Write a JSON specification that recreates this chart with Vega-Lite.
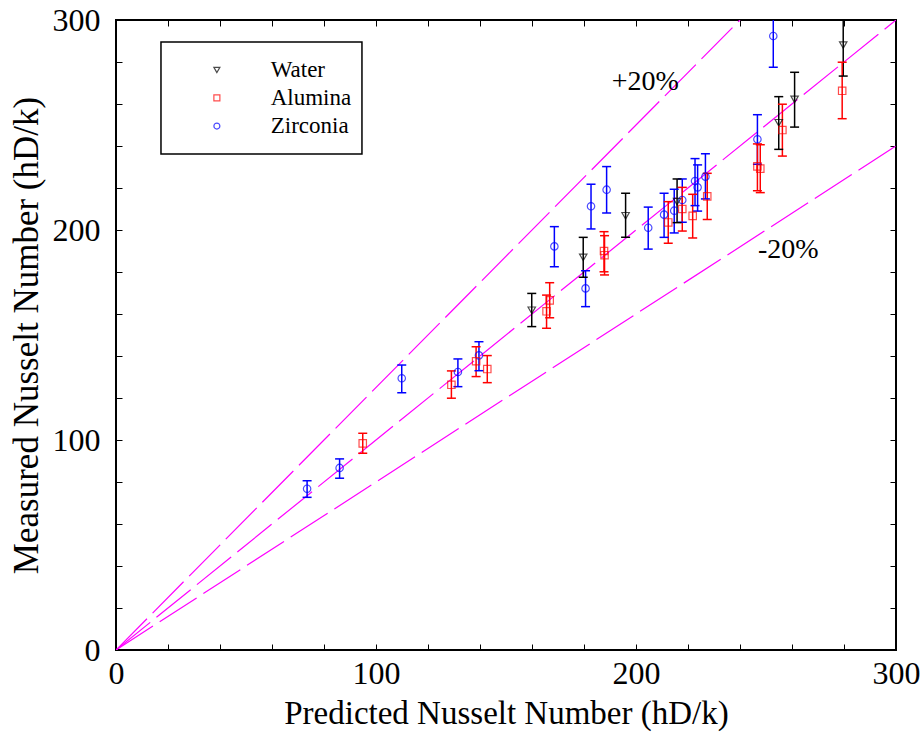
{
  "$schema": "https://vega.github.io/schema/vega-lite/v6.json",
  "width": 780,
  "height": 630,
  "autosize": "none",
  "padding": {"left": 116, "top": 20, "right": 25, "bottom": 85},
  "background": "white",
  "datasets": {
    "obs": [
      {"series": "Zirconia", "x": 73.5, "y": 76.8, "lo": 72.7, "hi": 80.6},
      {"series": "Zirconia", "x": 86.0, "y": 86.7, "lo": 81.8, "hi": 91.0},
      {"series": "Zirconia", "x": 109.9, "y": 129.4, "lo": 122.5, "hi": 135.7},
      {"series": "Zirconia", "x": 131.5, "y": 132.4, "lo": 125.4, "hi": 138.6},
      {"series": "Zirconia", "x": 139.6, "y": 140.3, "lo": 133.0, "hi": 146.8},
      {"series": "Zirconia", "x": 168.6, "y": 192.2, "lo": 182.5, "hi": 201.6},
      {"series": "Zirconia", "x": 180.6, "y": 172.2, "lo": 163.5, "hi": 180.6},
      {"series": "Zirconia", "x": 182.7, "y": 211.3, "lo": 200.5, "hi": 221.8},
      {"series": "Zirconia", "x": 188.7, "y": 219.2, "lo": 208.1, "hi": 230.2},
      {"series": "Zirconia", "x": 204.7, "y": 201.1, "lo": 190.9, "hi": 210.9},
      {"series": "Zirconia", "x": 210.8, "y": 207.3, "lo": 196.5, "hi": 217.5},
      {"series": "Zirconia", "x": 214.7, "y": 209.2, "lo": 198.6, "hi": 219.4},
      {"series": "Zirconia", "x": 217.8, "y": 214.3, "lo": 203.7, "hi": 224.3},
      {"series": "Zirconia", "x": 222.7, "y": 223.3, "lo": 211.6, "hi": 234.0},
      {"series": "Zirconia", "x": 223.7, "y": 220.3, "lo": 209.0, "hi": 231.0},
      {"series": "Zirconia", "x": 226.7, "y": 225.4, "lo": 214.8, "hi": 236.3},
      {"series": "Zirconia", "x": 246.7, "y": 243.2, "lo": 231.3, "hi": 254.9},
      {"series": "Zirconia", "x": 252.8, "y": 292.4, "lo": 277.5, "hi": 307.0},
      {"series": "Water", "x": 159.9, "y": 161.8, "lo": 154.0, "hi": 169.8},
      {"series": "Water", "x": 179.7, "y": 187.0, "lo": 177.5, "hi": 196.5},
      {"series": "Water", "x": 196.0, "y": 206.8, "lo": 196.5, "hi": 217.5},
      {"series": "Water", "x": 215.8, "y": 213.5, "lo": 203.5, "hi": 224.3},
      {"series": "Water", "x": 254.9, "y": 251.1, "lo": 238.4, "hi": 263.5},
      {"series": "Water", "x": 261.0, "y": 262.2, "lo": 249.0, "hi": 275.1},
      {"series": "Water", "x": 279.7, "y": 288.1, "lo": 273.3, "hi": 302.5},
      {"series": "Alumina", "x": 94.9, "y": 98.4, "lo": 93.7, "hi": 103.2},
      {"series": "Alumina", "x": 129.0, "y": 126.3, "lo": 119.9, "hi": 132.9},
      {"series": "Alumina", "x": 138.5, "y": 137.5, "lo": 130.2, "hi": 144.4},
      {"series": "Alumina", "x": 142.8, "y": 133.8, "lo": 127.3, "hi": 140.2},
      {"series": "Alumina", "x": 165.6, "y": 161.3, "lo": 153.2, "hi": 169.0},
      {"series": "Alumina", "x": 166.8, "y": 166.5, "lo": 158.2, "hi": 174.9},
      {"series": "Alumina", "x": 187.7, "y": 190.0, "lo": 180.1, "hi": 199.2},
      {"series": "Alumina", "x": 187.9, "y": 188.0, "lo": 178.6, "hi": 197.3},
      {"series": "Alumina", "x": 212.4, "y": 203.6, "lo": 193.7, "hi": 213.5},
      {"series": "Alumina", "x": 217.8, "y": 210.0, "lo": 199.5, "hi": 220.3},
      {"series": "Alumina", "x": 221.8, "y": 206.7, "lo": 196.2, "hi": 217.0},
      {"series": "Alumina", "x": 227.4, "y": 216.0, "lo": 205.0, "hi": 227.0},
      {"series": "Alumina", "x": 246.7, "y": 230.3, "lo": 218.7, "hi": 241.0},
      {"series": "Alumina", "x": 247.8, "y": 229.2, "lo": 217.8, "hi": 240.6},
      {"series": "Alumina", "x": 256.3, "y": 247.6, "lo": 235.2, "hi": 259.9},
      {"series": "Alumina", "x": 279.3, "y": 266.3, "lo": 253.0, "hi": 279.9}
    ],
    "refs": [
      {"line": "equal", "x": 0, "y": 0},
      {"line": "equal", "x": 300, "y": 300},
      {"line": "plus20", "x": 0, "y": 0},
      {"line": "plus20", "x": 240, "y": 300},
      {"line": "minus20", "x": 0, "y": 0},
      {"line": "minus20", "x": 300, "y": 240}
    ],
    "notes": [
      {"x": 190.7, "y": 266.7, "label": "+20%"},
      {"x": 246.9, "y": 186.7, "label": "-20%"}
    ],
    "keybox": [
      {"x": 17.3, "x2": 94.6, "y": 289.5, "y2": 236.2}
    ],
    "keys": [
      {"series": "Water", "x": 38.8, "tx": 59.5, "y": 276.2},
      {"series": "Alumina", "x": 38.8, "tx": 59.5, "y": 262.9},
      {"series": "Zirconia", "x": 38.8, "tx": 59.5, "y": 249.5}
    ]
  },
  "layer": [
    {
      "data": {"name": "refs"},
      "mark": {"type": "line", "color": "#ff00ff", "strokeWidth": 1.2, "strokeDash": [44, 8], "clip": true},
      "encoding": {
        "x": {"field": "x", "type": "quantitative", "scale": {"domain": [0, 300], "nice": false, "zero": false},
          "axis": {"orient": "bottom", "values": [0,20,40,60,80,100,120,140,160,180,200,220,240,260,280,300],
            "labelExpr": "datum.value % 100 === 0 ? datum.label : ''", "title": "Predicted Nusselt Number (hD/k)",
            "labelPadding": 14, "titlePadding": 8, "titleFontSize": 33}},
        "y": {"field": "y", "type": "quantitative", "scale": {"domain": [0, 300], "nice": false, "zero": false},
          "axis": {"orient": "left", "values": [0,20,40,60,80,100,120,140,160,180,200,220,240,260,280,300],
            "labelExpr": "datum.value % 100 === 0 ? datum.label : ''", "title": "Measured Nusselt Number (hD/k)",
            "labelPadding": 22, "titlePadding": 8, "titleFontSize": 35}},
        "detail": {"field": "line", "type": "nominal"}
      }
    },
    {
      "data": {"name": "obs"},
      "mark": {"type": "rule", "strokeWidth": 1.5, "clip": true},
      "encoding": {
        "x": {"field": "x", "type": "quantitative", "axis": null},
        "y": {"field": "lo", "type": "quantitative", "axis": null},
        "y2": {"field": "hi"},
        "stroke": {"field": "series", "type": "nominal", "legend": null,
          "scale": {"domain": ["Water", "Alumina", "Zirconia"], "range": ["#000000", "#ff0000", "#0000ff"]}}
      }
    },
    {
      "data": {"name": "obs"},
      "mark": {"type": "tick", "orient": "horizontal", "size": 9, "thickness": 1.5, "clip": true, "opacity": 1},
      "encoding": {
        "x": {"field": "x", "type": "quantitative", "axis": null},
        "y": {"field": "lo", "type": "quantitative", "axis": null},
        "fill": {"field": "series", "type": "nominal", "legend": null,
          "scale": {"domain": ["Water", "Alumina", "Zirconia"], "range": ["#000000", "#ff0000", "#0000ff"]}}
      }
    },
    {
      "data": {"name": "obs"},
      "mark": {"type": "tick", "orient": "horizontal", "size": 9, "thickness": 1.5, "clip": true, "opacity": 1},
      "encoding": {
        "x": {"field": "x", "type": "quantitative", "axis": null},
        "y": {"field": "hi", "type": "quantitative", "axis": null},
        "fill": {"field": "series", "type": "nominal", "legend": null,
          "scale": {"domain": ["Water", "Alumina", "Zirconia"], "range": ["#000000", "#ff0000", "#0000ff"]}}
      }
    },
    {
      "data": {"name": "obs"},
      "mark": {"type": "point", "filled": false, "size": 55, "strokeWidth": 1.2, "clip": true},
      "encoding": {
        "x": {"field": "x", "type": "quantitative",
          "axis": {"orient": "top", "values": [0,20,40,60,80,100,120,140,160,180,200,220,240,260,280,300], "labels": false, "title": null}},
        "y": {"field": "y", "type": "quantitative",
          "axis": {"orient": "right", "values": [0,20,40,60,80,100,120,140,160,180,200,220,240,260,280,300], "labels": false, "title": null}},
        "color": {"field": "series", "type": "nominal", "legend": null,
          "scale": {"domain": ["Water", "Alumina", "Zirconia"], "range": ["#000000", "#ff0000", "#0000ff"]}},
        "shape": {"field": "series", "type": "nominal", "legend": null,
          "scale": {"domain": ["Water", "Alumina", "Zirconia"], "range": ["triangle-down", "square", "circle"]}}
      }
    },
    {
      "data": {"name": "notes"},
      "mark": {"type": "text", "align": "left", "baseline": "alphabetic", "fontSize": 28, "color": "black", "font": "Liberation Serif"},
      "encoding": {
        "x": {"field": "x", "type": "quantitative", "axis": null},
        "y": {"field": "y", "type": "quantitative", "axis": null},
        "text": {"field": "label"}
      }
    },
    {
      "data": {"name": "keybox"},
      "mark": {"type": "rect", "fill": "white", "stroke": "black", "strokeWidth": 1.5},
      "encoding": {
        "x": {"field": "x", "type": "quantitative", "axis": null},
        "x2": {"field": "x2"},
        "y": {"field": "y", "type": "quantitative", "axis": null},
        "y2": {"field": "y2"}
      }
    },
    {
      "data": {"name": "keys"},
      "mark": {"type": "point", "filled": false, "size": 36, "strokeWidth": 1.2},
      "encoding": {
        "x": {"field": "x", "type": "quantitative", "axis": null},
        "y": {"field": "y", "type": "quantitative", "axis": null},
        "color": {"field": "series", "type": "nominal", "legend": null},
        "shape": {"field": "series", "type": "nominal", "legend": null}
      }
    },
    {
      "data": {"name": "keys"},
      "mark": {"type": "text", "align": "left", "baseline": "middle", "fontSize": 23, "color": "black", "font": "Liberation Serif"},
      "encoding": {
        "x": {"field": "tx", "type": "quantitative", "axis": null},
        "y": {"field": "y", "type": "quantitative", "axis": null},
        "text": {"field": "series"}
      }
    }
  ],
  "resolve": {"axis": {"x": "independent", "y": "independent"}},
  "config": {
    "font": "Liberation Serif",
    "view": {"stroke": "black", "strokeWidth": 2},
    "axis": {
      "domain": false, "grid": false, "tickColor": "black", "tickSize": -6, "tickWidth": 1,
      "labelFont": "Liberation Serif", "labelFontSize": 32, "labelColor": "black",
      "labelFlush": false, "labelOverlap": false,
      "titleFont": "Liberation Serif", "titleFontWeight": "normal", "titleColor": "black"
    }
  }
}
